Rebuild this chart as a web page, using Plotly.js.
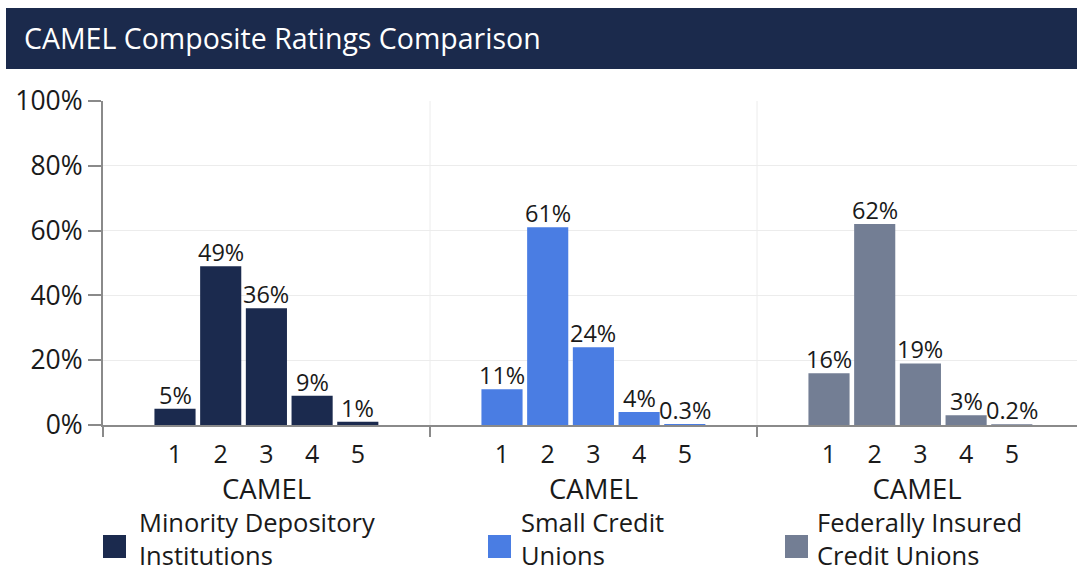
<!DOCTYPE html>
<html>
<head>
<meta charset="utf-8">
<script src="https://cdn.plot.ly/plotly-3.0.1.min.js"></script>
<style>html,body{margin:0;padding:0;background:#fff;}#chart{width:1077px;height:573px;}</style>
</head>
<body>
<div id="chart"></div>
<script>
// ---- data ----
const chartTitle = 'CAMEL Composite Ratings Comparison';
const axisTitle = 'CAMEL';
const categories = ['1', '2', '3', '4', '5'];
const seriesNames = ['Minority Depository<br>Institutions', 'Small Credit<br>Unions', 'Federally Insured<br>Credit Unions'];
const mdiValues = [5, 49, 36, 9, 1];
const smallCuValues = [11, 61, 24, 4, 0.3];
const fiCuValues = [16, 62, 19, 3, 0.2];
const yTickValues = [0, 20, 40, 60, 80, 100];
const yTickLabels = ['0%', '20%', '40%', '60%', '80%', '100%'];
const seriesColors = ['#1b2a4e', '#4a7de3', '#737e94'];

// ---- layout helpers (pixels -> paper) ----
const W = 1077, H = 573;
const M = {l: 103, r: 0, t: 101, b: 148};
const PW = W - M.l - M.r, PH = H - M.t - M.b;
const px = x => (x - M.l) / PW;
const py = y => (H - M.b - y) / PH;
const panelW = 327;
const unitPx = 45.7;
const leftPad = 72 / unitPx;

const allValues = [mdiValues, smallCuValues, fiCuValues];
const axisIds = ['x', 'x2', 'x3'];
const FONT = 'Open Sans, sans-serif';
const TXT = '#1a1a1a';
const AXC = '#8a8a8a';

const traces = allValues.map((vals, i) => ({
  type: 'bar',
  x: categories,
  y: vals,
  xaxis: axisIds[i],
  yaxis: 'y',
  name: seriesNames[i].replace('<br>', ' '),
  marker: {color: seriesColors[i]},
  showlegend: false,
  hoverinfo: 'x+y'
}));

const layout = {
  width: W, height: H,
  margin: M,
  paper_bgcolor: '#ffffff',
  plot_bgcolor: '#ffffff',
  font: {family: FONT, color: TXT},
  bargap: 0.1,
  showlegend: false,
  title: {
    text: chartTitle,
    font: {family: FONT, size: 28.5, color: '#ffffff'},
    xref: 'container', yref: 'container',
    x: 24 / W, xanchor: 'left',
    y: 1 - 39 / H, yanchor: 'middle'
  },
  yaxis: {
    range: [0, 100],
    tickvals: yTickValues,
    ticktext: yTickLabels,
    tickfont: {family: FONT, size: 26.5, color: TXT},
    showgrid: true, gridcolor: '#ececec', gridwidth: 1,
    zeroline: false,
    showline: true, linecolor: AXC, linewidth: 2,
    ticks: 'outside', ticklen: 13, tickwidth: 2, tickcolor: AXC,
    fixedrange: true
  },
  shapes: [],
  annotations: []
};

axisIds.forEach((id, i) => {
  const x0 = M.l + i * panelW;
  const x1 = Math.min(x0 + panelW, W - M.r);
  const key = 'xaxis' + (i === 0 ? '' : (i + 1));
  layout[key] = {
    domain: [px(x0), px(x1)],
    anchor: 'y',
    type: 'category',
    range: [-leftPad, -leftPad + (x1 - x0) / unitPx],
    showgrid: false, zeroline: false,
    showline: true, linecolor: AXC, linewidth: 2,
    ticks: '',
    ticklabelstandoff: 6,
    tickfont: {family: FONT, size: 25, color: TXT},
    title: {text: axisTitle, font: {family: FONT, size: 27.5, color: TXT}, standoff: 0},
    fixedrange: true
  };
  // panel boundary tick below the axis
  layout.shapes.push({type: 'line', xref: 'paper', yref: 'paper',
    x0: px(x0), x1: px(x0), y0: 0, y1: -12 / PH,
    line: {color: AXC, width: 2}});
  // vertical grid separator between panels
  if (i > 0) {
    layout.shapes.push({type: 'line', xref: 'paper', yref: 'paper', layer: 'below',
      x0: px(x0), x1: px(x0), y0: 0, y1: 1,
      line: {color: '#ececec', width: 1}});
  }
  // value labels above bars (category index on the category axis)
  allValues[i].forEach((v, j) => {
    layout.annotations.push({
      xref: id, yref: 'y',
      x: j, y: v,
      xanchor: 'center', yanchor: 'bottom', yshift: -4,
      text: v + '%', showarrow: false,
      font: {family: FONT, size: 23.5, color: TXT}
    });
  });
});

// title bar
layout.shapes.push({type: 'rect', xref: 'paper', yref: 'paper', layer: 'below',
  x0: px(6), x1: px(1077), y0: py(69), y1: py(8),
  fillcolor: '#1b2a4c', line: {width: 0}});

// custom legend (large squares, two-line labels)
const legendSquareX = [103, 488, 785];
const legendTextX = [137, 519, 815];
seriesNames.forEach((name, i) => {
  layout.shapes.push({type: 'rect', xref: 'paper', yref: 'paper',
    x0: px(legendSquareX[i]), x1: px(legendSquareX[i] + 23),
    y0: py(558), y1: py(535),
    fillcolor: seriesColors[i], line: {width: 0}});
  layout.annotations.push({
    xref: 'paper', yref: 'paper',
    x: px(legendTextX[i]), xanchor: 'left',
    y: py(503), yanchor: 'top',
    text: name, align: 'left', showarrow: false,
    font: {family: FONT, size: 25.5, color: TXT}
  });
});

Plotly.newPlot('chart', traces, layout, {displayModeBar: false, staticPlot: true});
</script>
</body>
</html>
